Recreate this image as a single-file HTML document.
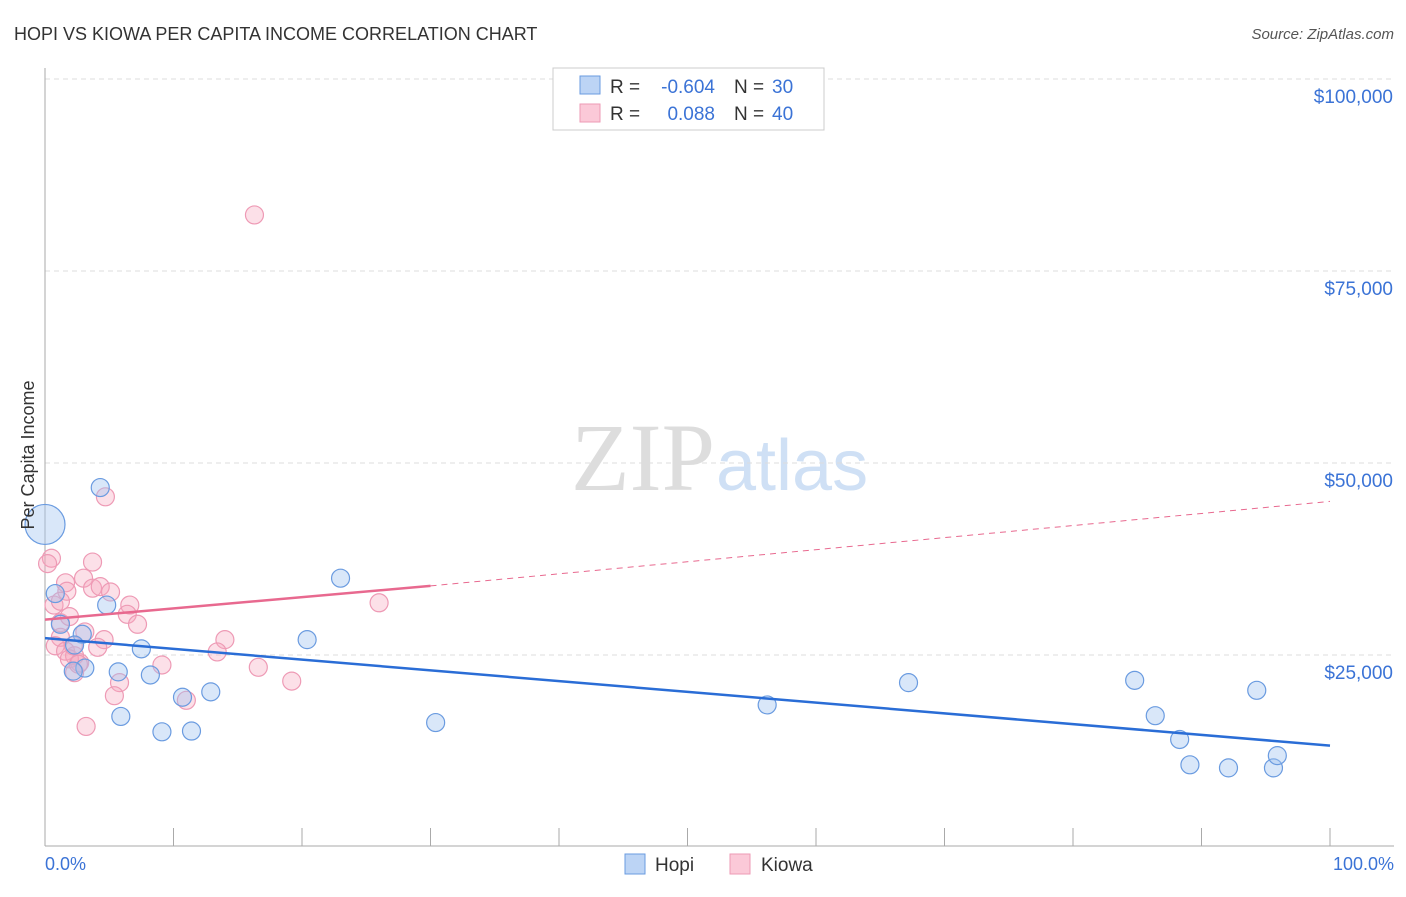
<!DOCTYPE html>
<html><head><meta charset="utf-8"><style>
body{margin:0;background:#fff;font-family:"Liberation Sans",sans-serif}
</style></head><body>
<svg id="c" width="1406" height="892" xmlns="http://www.w3.org/2000/svg" style="font-family:'Liberation Sans',sans-serif">
<text x="14" y="40" font-size="18" fill="#333">HOPI VS KIOWA PER CAPITA INCOME CORRELATION CHART</text>
<text x="1394" y="39" font-size="15" fill="#555" font-style="italic" text-anchor="end">Source: ZipAtlas.com</text>
<text x="715" y="490" font-size="96" fill="#ddd" text-anchor="end" font-family="Liberation Serif">ZIP</text>
<text x="716" y="490" font-size="72" fill="#cfe0f5">atlas</text>
<g id="grid"></g><g id="marks"></g>
<text transform="translate(34,455) rotate(-90)" font-size="18" fill="#333" text-anchor="middle">Per Capita Income</text>
<text x="45" y="870" font-size="18" fill="#3b73d6">0.0%</text>
<text x="1394" y="870" font-size="18" fill="#3b73d6" text-anchor="end">100.0%</text>
<g>
<rect x="553" y="68" width="271" height="62" fill="#fff" stroke="#ccc"/>
<rect x="580" y="76" width="20" height="18" fill="#bcd4f5" stroke="#6a9be0"/>
<rect x="580" y="104" width="20" height="18" fill="#fbc9d8" stroke="#ee9ab5"/>
<text x="610" y="93" font-size="19" fill="#333">R =</text>
<text x="715" y="93" font-size="19" fill="#3b73d6" text-anchor="end">-0.604</text>
<text x="734" y="93" font-size="19" fill="#333">N =</text>
<text x="772" y="93" font-size="19" fill="#3b73d6">30</text>
<text x="610" y="120" font-size="19" fill="#333">R =</text>
<text x="715" y="120" font-size="19" fill="#3b73d6" text-anchor="end">0.088</text>
<text x="734" y="120" font-size="19" fill="#333">N =</text>
<text x="772" y="120" font-size="19" fill="#3b73d6">40</text>
</g>
<g>
<rect x="625" y="854" width="20" height="20" fill="#bcd4f5" stroke="#6a9be0"/>
<text x="655" y="871" font-size="19" fill="#333">Hopi</text>
<rect x="730" y="854" width="20" height="20" fill="#fbc9d8" stroke="#ee9ab5"/>
<text x="761" y="871" font-size="19" fill="#333">Kiowa</text>
</g>
</svg>
<script>
const yTicks=[25000,50000,75000,100000];
const yTickLabels=["$25,000","$50,000","$75,000","$100,000"];
const hopiX=[0,0.8,1.2,2.9,4.3,4.8,3.1,2.2,5.7,5.9,7.5,8.2,9.1,10.7,11.4,12.9,20.4,23.0,30.4,56.2,67.2,84.8,86.4,88.3,89.1,92.1,94.3,95.6,95.9,2.3];
const hopiY=[42000,33000,29000,27700,46800,31500,23300,22900,22800,17000,25800,22400,15000,19500,15100,20200,27000,35000,16200,18500,21400,21700,17100,14000,10700,10300,20400,10300,11900,26300];
const hopiR=[20,9,9,9,9,9,9,9,9,9,9,9,9,9,9,9,9,9,9,9,9,9,9,9,9,9,9,9,9,9];
const kiowaX=[16.3,4.7,0.5,0.2,3.7,3.0,1.6,1.7,3.7,4.3,5.1,0.7,6.6,6.4,7.2,1.2,1.2,4.6,0.8,1.6,2.3,1.9,2.2,2.7,2.3,14.0,13.4,9.1,16.6,19.2,5.8,5.4,11.0,3.2,26.0,3.1,4.1,1.2,1.9,2.6];
const kiowaY=[82300,45600,37600,36900,37100,35000,34400,33300,33700,33900,33200,31500,31500,30300,29000,29200,27300,27000,26200,25500,24900,24500,26200,24000,22700,27000,25400,23700,23400,21600,21400,19700,19100,15700,31800,28000,26000,32000,30000,23800];
const hopiTrend=[27200,13200];
const kiowaTrend=[29600,34000,45000];
const X0=45,X1=1330,Y0=847,PY=192/25000;
const sx=v=>X0+(X1-X0)*v/100, sy=v=>Y0-v*PY;
const NS="http://www.w3.org/2000/svg";
function mk(t,a,p){const e=document.createElementNS(NS,t);for(const k in a)e.setAttribute(k,a[k]);p.appendChild(e);return e;}
const g=document.getElementById('grid'),m=document.getElementById('marks');
yTicks.forEach((v,i)=>{
 const l=mk('line',{x1:X0,x2:1394,y1:sy(v),y2:sy(v),stroke:'#ddd','stroke-dasharray':'5,4'},g);
 
 
 const t=mk('text',{x:1393,y:sy(v)+24,'font-size':19,fill:'#3b73d6','text-anchor':'end'},g);t.textContent=yTickLabels[i];
 
 
});
const topGrid=mk('line',{x1:X0,x2:1394,y1:79,y2:79,stroke:'#ddd','stroke-dasharray':'5,4'},g);


const ax=mk('line',{x1:X0,x2:X0,y1:68,y2:846,stroke:'#aaa'},g);


const bx=mk('line',{x1:X0,x2:1394,y1:846,y2:846,stroke:'#aaa'},g);


for(let i=0;i<=10;i++){const x=sx(i*10);const t=mk('line',{x1:x,x2:x,y1:828,y2:846,stroke:'#aaa'},g);
 
 }
kiowaX.forEach((x,i)=>{const c=mk('circle',{cx:sx(x),cy:sy(kiowaY[i]),r:9,fill:'rgba(245,165,190,0.35)',stroke:'#ee9ab5','stroke-width':1.2},m);
 
 });
hopiX.forEach((x,i)=>{const c=mk('circle',{cx:sx(x),cy:sy(hopiY[i]),r:hopiR[i],fill:'rgba(160,195,240,0.4)',stroke:'#6a9be0','stroke-width':1.2},m);
 
 });
const ht=mk('line',{x1:sx(0),y1:sy(hopiTrend[0]),x2:sx(100),y2:sy(hopiTrend[1]),stroke:'#2a6dd6','stroke-width':2.5},m);


const kt=mk('line',{x1:sx(0),y1:sy(kiowaTrend[0]),x2:sx(30),y2:sy(kiowaTrend[1]),stroke:'#e8698f','stroke-width':2.5},m);


const kd=mk('line',{x1:sx(30),y1:sy(kiowaTrend[1]),x2:sx(100),y2:sy(kiowaTrend[2]),stroke:'#e8698f','stroke-width':1,'stroke-dasharray':'6,5'},m);


</script>
</body></html>
